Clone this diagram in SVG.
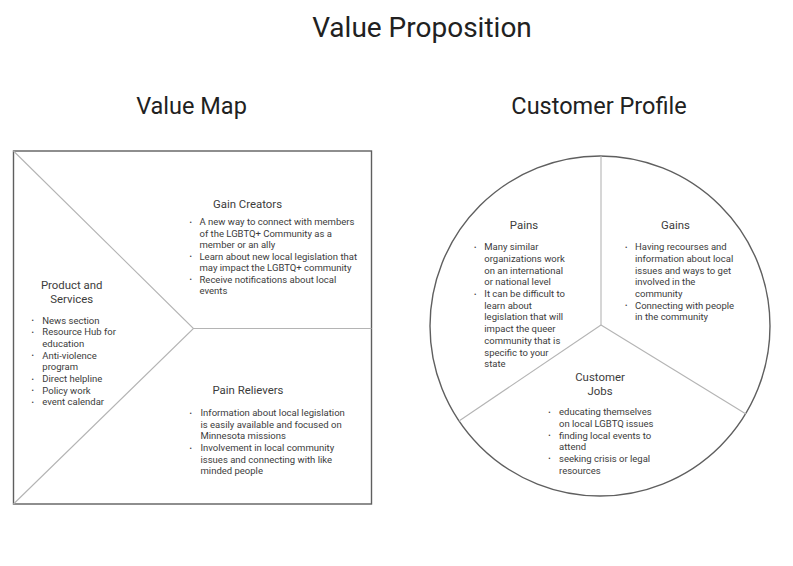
<svg xmlns="http://www.w3.org/2000/svg" width="793" height="566" viewBox="0 0 793 566">
  <style>
    text { font-family: Roboto, "Liberation Sans", sans-serif; fill: #333333; }
    .title { font-size: 28px; fill: #212121; text-anchor: middle; }
    .sub { font-size: 23.5px; fill: #212121; text-anchor: middle; }
    .head { font-size: 11.4px; text-anchor: middle; fill: #3c3c3c; }
    .body { font-size: 9.5px; fill: #3c3c3c; }
    .bul { font-size: 7px; fill: #3c3c3c; }
    .frame { fill: #ffffff; stroke: #5f5f5f; stroke-width: 1.4; }
    .div { fill: none; stroke: #b4b4b4; stroke-width: 1.1; }
  </style>
  <rect x="0" y="0" width="793" height="566" fill="#ffffff"/>

  <g id="title">
    <text class="title" x="422" y="36.5">Value Proposition</text>
  </g>
  <g id="value-map-title">
    <text class="sub" x="191.5" y="114">Value Map</text>
  </g>
  <g id="customer-profile-title">
    <text class="sub" x="599" y="114">Customer Profile</text>
  </g>

  <g id="value-map-frame">
    <rect class="frame" x="13.5" y="151" width="358" height="353"/>
  </g>
  <g id="customer-profile-frame">
    <circle class="frame" cx="600" cy="326" r="170"/>
  </g>

  <g id="connectors">
    <polyline class="div" points="13.5,151 193.5,328.5 13.5,504"/>
    <line class="div" x1="193.5" y1="328.5" x2="371.5" y2="328.5"/>
    <line class="div" x1="601" y1="156" x2="601" y2="325"/>
    <line class="div" x1="601" y1="325" x2="459" y2="421"/>
    <line class="div" x1="601" y1="325" x2="746" y2="414"/>
  </g>

  <g id="product-and-services">
    <text class="head" x="71.7" y="289">Product and</text>
    <text class="head" x="71.7" y="302.5">Services</text>
    <text class="bul" x="31.5" y="323">•</text>
    <text class="bul" x="31.5" y="334.7">•</text>
    <text class="bul" x="31.5" y="358.1">•</text>
    <text class="bul" x="31.5" y="381.5">•</text>
    <text class="bul" x="31.5" y="393.2">•</text>
    <text class="bul" x="31.5" y="404.9">•</text>
    <text class="body" x="42.3" y="323.5">News section</text>
    <text class="body" x="42.3" y="335.2">Resource Hub for</text>
    <text class="body" x="42.3" y="346.9">education</text>
    <text class="body" x="42.3" y="358.6">Anti-violence</text>
    <text class="body" x="42.3" y="370.3">program</text>
    <text class="body" x="42.3" y="382">Direct helpline</text>
    <text class="body" x="42.3" y="393.7">Policy work</text>
    <text class="body" x="42.3" y="405.4">event calendar</text>
  </g>

  <g id="gain-creators">
    <text class="head" x="247.5" y="208">Gain Creators</text>
    <text class="bul" x="189.5" y="224.5">•</text>
    <text class="bul" x="189.5" y="259">•</text>
    <text class="bul" x="189.5" y="282">•</text>
    <text class="body" x="199.5" y="225">A new way to connect with members</text>
    <text class="body" x="199.5" y="236.5">of the LGBTQ+ Community as a</text>
    <text class="body" x="199.5" y="248">member or an ally</text>
    <text class="body" x="199.5" y="259.5">Learn about new local legislation that</text>
    <text class="body" x="199.5" y="271">may impact the LGBTQ+ community</text>
    <text class="body" x="199.5" y="282.5">Receive notifications about local</text>
    <text class="body" x="199.5" y="294">events</text>
  </g>

  <g id="pain-relievers">
    <text class="head" x="248" y="394">Pain Relievers</text>
    <text class="bul" x="189.5" y="415.7">•</text>
    <text class="bul" x="189.5" y="450.5">•</text>
    <text class="body" x="200.5" y="416.2">Information about local legislation</text>
    <text class="body" x="200.5" y="427.8">is easily available and focused on</text>
    <text class="body" x="200.5" y="439.4">Minnesota missions</text>
    <text class="body" x="200.5" y="451">Involvement in local community</text>
    <text class="body" x="200.5" y="462.6">issues and connecting with like</text>
    <text class="body" x="200.5" y="474.2">minded people</text>
  </g>

  <g id="pains">
    <text class="head" x="524" y="229">Pains</text>
    <text class="bul" x="474" y="249.7">•</text>
    <text class="bul" x="474" y="296.5">•</text>
    <text class="body" x="484.3" y="250.2">Many similar</text>
    <text class="body" x="484.3" y="261.9">organizations work</text>
    <text class="body" x="484.3" y="273.6">on an international</text>
    <text class="body" x="484.3" y="285.3">or national level</text>
    <text class="body" x="484.3" y="297">It can be difficult to</text>
    <text class="body" x="484.3" y="308.7">learn about</text>
    <text class="body" x="484.3" y="320.4">legislation that will</text>
    <text class="body" x="484.3" y="332.1">impact the queer</text>
    <text class="body" x="484.3" y="343.8">community that is</text>
    <text class="body" x="484.3" y="355.5">specific to your</text>
    <text class="body" x="484.3" y="367.2">state</text>
  </g>

  <g id="gains">
    <text class="head" x="675.5" y="229">Gains</text>
    <text class="bul" x="625" y="249.7">•</text>
    <text class="bul" x="625" y="308.2">•</text>
    <text class="body" x="635" y="250.2">Having recourses and</text>
    <text class="body" x="635" y="261.9">information about local</text>
    <text class="body" x="635" y="273.6">issues and ways to get</text>
    <text class="body" x="635" y="285.3">involved in the</text>
    <text class="body" x="635" y="297">community</text>
    <text class="body" x="635" y="308.7">Connecting with people</text>
    <text class="body" x="635" y="320.4">in the community</text>
  </g>

  <g id="customer-jobs">
    <text class="head" x="600" y="381.3">Customer</text>
    <text class="head" x="600" y="394.7">Jobs</text>
    <text class="bul" x="548.3" y="414.7">•</text>
    <text class="bul" x="548.3" y="438">•</text>
    <text class="bul" x="548.3" y="461.3">•</text>
    <text class="body" x="559" y="415.2">educating themselves</text>
    <text class="body" x="559" y="426.8">on local LGBTQ issues</text>
    <text class="body" x="559" y="438.5">finding local events to</text>
    <text class="body" x="559" y="450.2">attend</text>
    <text class="body" x="559" y="461.8">seeking crisis or legal</text>
    <text class="body" x="559" y="473.5">resources</text>
  </g>
</svg>
